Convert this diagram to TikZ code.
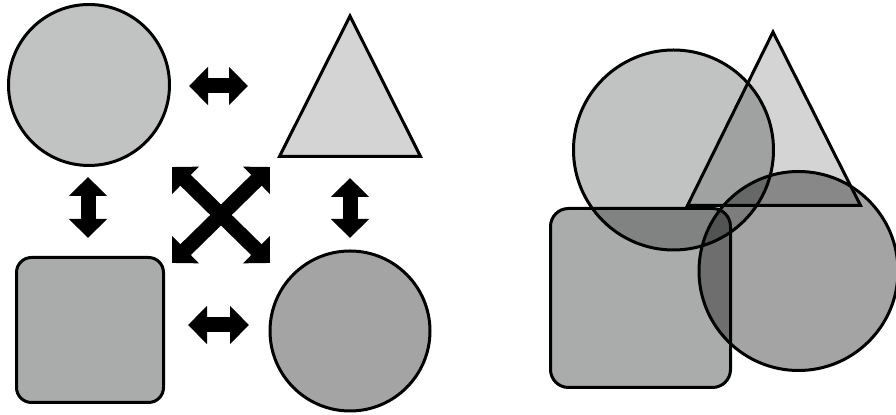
\documentclass[tikz,border=0pt]{standalone}
\usepackage{tikz}
\usetikzlibrary{arrows.meta}
\definecolor{circlight}{HTML}{C1C3C2}
\definecolor{circdark}{HTML}{A4A4A4}
\definecolor{trifill}{HTML}{D4D4D4}
\definecolor{boxfill}{HTML}{AAACAB}

\begin{document}
\begin{tikzpicture}[
    x=0.5pt, y=-0.5pt,
    outlined/.style={draw=black, line width=1.5pt, inner sep=0pt, outer sep=0pt},
    lightdisc/.style={circle, outlined, fill=circlight},
    darkdisc/.style={circle, outlined, fill=circdark},
    roundbox/.style={rectangle, outlined, fill=boxfill},
    tri/.style={outlined, fill=trifill},
    dblarrow/.style={line width=7.5pt, >={Triangle[width=18.5pt, length=9.5pt]}, <->}
]
\useasboundingbox (0,0) rectangle (896,415);

\node[lightdisc, minimum size=80.5pt] (c1) at (89,85) {};
\draw[tri] (350,16) -- (279.5,156.5) -- (420.5,156.5) -- cycle;
\node[roundbox, minimum width=73.5pt, minimum height=72.5pt, rounded corners=7.5pt]
    (s1) at (90,330) {};
\node[darkdisc, minimum size=80pt] (c2) at (350,331) {};

\coordinate (h1a) at (189,86);  \coordinate (h1b) at (248,86);
\coordinate (h2a) at (188,325); \coordinate (h2b) at (249,325);
\coordinate (v1a) at (88,177);  \coordinate (v1b) at (88,238);
\coordinate (v2a) at (350,178); \coordinate (v2b) at (350,238);
\coordinate (xa) at (172,167);  \coordinate (xb) at (270,263);
\coordinate (xc) at (270,167);  \coordinate (xd) at (172,263);
\draw[dblarrow] (h1a) -- (h1b);
\draw[dblarrow] (h2a) -- (h2b);
\draw[dblarrow] (v1a) -- (v1b);
\draw[dblarrow] (v2a) -- (v2b);
\draw[dblarrow] (xa) -- (xb);
\draw[dblarrow] (xc) -- (xd);

\begin{scope}[blend group=multiply]
\node[lightdisc, minimum size=100pt] (c3) at (673.5,150) {};
\draw[tri] (773,32) -- (687.5,205.5) -- (860.5,205.5) -- cycle;
\node[roundbox, minimum width=90pt, minimum height=89.5pt, rounded corners=9pt]
    (s2) at (640.5,298) {};
\node[darkdisc, minimum size=99.5pt] (c4) at (798.5,271) {};
\end{scope}
\end{tikzpicture}
\end{document}
